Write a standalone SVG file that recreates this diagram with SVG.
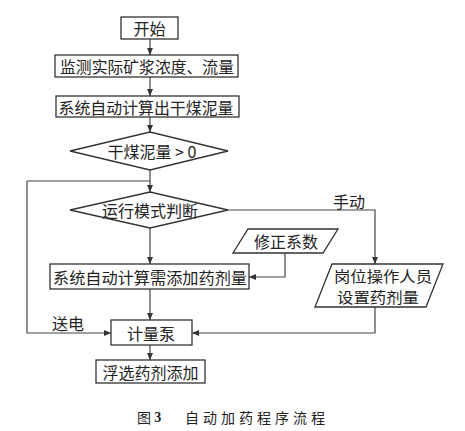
<svg xmlns="http://www.w3.org/2000/svg" width="465" height="431" viewBox="0 0 465 431">
<style>
.box{fill:#fff;stroke:#333;stroke-width:1.3}
.ln{fill:none;stroke:#444;stroke-width:1.2}
.t{font-family:"Noto Sans CJK SC","Liberation Serif",serif;font-size:16px;fill:#222;text-anchor:middle;dominant-baseline:central}
.cap{font-family:"Noto Sans CJK SC",serif;font-size:14px;fill:#222;dominant-baseline:central}
</style>
<defs>
<marker id="ah" markerWidth="8" markerHeight="6" refX="7" refY="3" orient="auto" markerUnits="userSpaceOnUse">
<path d="M0,0 L7,3 L0,6 Z" fill="#333"/>
</marker>
</defs>
<rect width="465" height="431" fill="#fff"/>
<g id="connectors">
<path class="ln" d="M150,39 V55" marker-end="url(#ah)"/>
<path class="ln" d="M150,77 V96" marker-end="url(#ah)"/>
<path class="ln" d="M150,117 V132" marker-end="url(#ah)"/>
<path class="ln" d="M150,170 V192" marker-end="url(#ah)"/>
<path class="ln" d="M27,181 H150"/>
<path class="ln" d="M27,181 V333 H111" marker-end="url(#ah)"/>
<path class="ln" d="M228,210 H375 V264" marker-end="url(#ah)"/>
<path class="ln" d="M150,228 V264" marker-end="url(#ah)"/>
<path class="ln" d="M285,253 V277 H249" marker-end="url(#ah)"/>
<path class="ln" d="M150,289 V320" marker-end="url(#ah)"/>
<path class="ln" d="M375,307 V333 H192" marker-end="url(#ah)"/>
<path class="ln" d="M150,345 V360" marker-end="url(#ah)"/>
<text class="t" x="349" y="201">手动</text>
<text class="t" x="68" y="323">送电</text>
</g>
<g id="start"><rect class="box" x="121" y="17" width="57" height="22"/><text class="t" x="149.5" y="28">开始</text></g>
<g id="monitor"><rect class="box" x="55" y="55" width="183" height="22"/><text class="t" x="147" y="66" textLength="174" lengthAdjust="spacingAndGlyphs">监测实际矿浆浓度、流量</text></g>
<g id="calc1"><rect class="box" x="56" y="96" width="183" height="21"/><text class="t" x="146" y="106.5" textLength="175" lengthAdjust="spacingAndGlyphs">系统自动计算出干煤泥量</text></g>
<g id="dec1"><polygon class="box" points="70,151 150,132 228,151 150,170"/><text class="t" x="152" y="151">干煤泥量 &gt; 0</text></g>
<g id="dec2"><polygon class="box" points="70,210 150,192 228,210 150,228"/><text class="t" x="150" y="210">运行模式判断</text></g>
<g id="coef"><polygon class="box" points="248,229 338,229 323,253 233,253"/><text class="t" x="286" y="241">修正系数</text></g>
<g id="calc2"><rect class="box" x="50" y="264" width="199" height="25"/><text class="t" x="150" y="276.5" textLength="194" lengthAdjust="spacingAndGlyphs">系统自动计算需添加药剂量</text></g>
<g id="manual"><polygon class="box" points="332,264 443,264 426,307 315,307"/><text class="t" x="383" y="275.5" style="font-size:15px" textLength="98" lengthAdjust="spacingAndGlyphs">岗位操作人员</text><text class="t" x="378" y="296.5" style="font-size:15px" textLength="82" lengthAdjust="spacingAndGlyphs">设置药剂量</text></g>
<g id="pump"><rect class="box" x="111" y="320" width="81" height="25"/><text class="t" x="151" y="332.5">计量泵</text></g>
<g id="add"><rect class="box" x="96" y="360" width="109" height="23"/><text class="t" x="150.5" y="371.5">浮选药剂添加</text></g>
<text class="cap" x="137" y="417">图 <tspan font-weight="bold" font-family="Liberation Serif,serif">3</tspan></text>
<text class="cap" x="185" y="417" letter-spacing="4">自动加药程序流程</text>
</svg>
